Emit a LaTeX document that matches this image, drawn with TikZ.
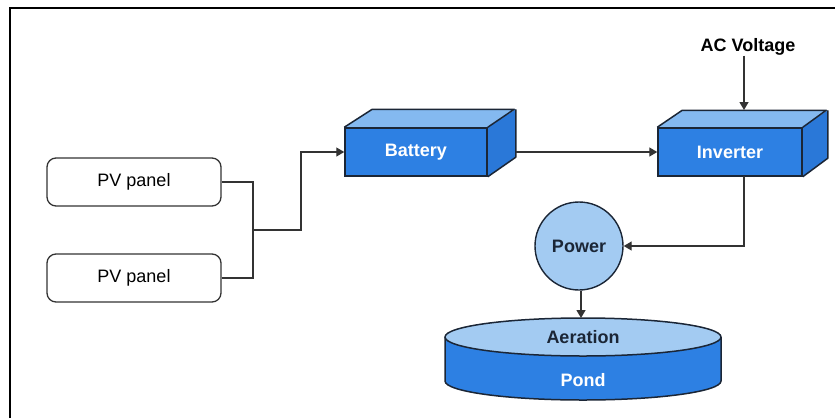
\documentclass[tikz,border=0pt]{standalone}
\usepackage{fontspec}
\setmainfont{Liberation Sans}
\usetikzlibrary{arrows.meta,calc}
\definecolor{frontblue}{HTML}{2D80E3}
\definecolor{topblue}{HTML}{84B9F0}
\definecolor{sideblue}{HTML}{2A78D8}
\definecolor{lightblue}{HTML}{A3CBF2}
\definecolor{edge}{HTML}{1B2636}
\definecolor{wire}{HTML}{333333}
\tikzset{
  txt/.style={font=\fontsize{18}{20}\selectfont},
  pvbox/.style={txt, draw=wire, line width=1.3pt, rounded corners=9pt, fill=white,
    minimum width=174pt, minimum height=48pt, inner sep=0pt},
  frontface/.style={txt, font=\fontsize{18}{20}\selectfont\bfseries, text=white,
    draw=edge, line width=1.5pt, fill=frontblue, minimum width=142pt, minimum height=48pt, inner sep=0pt},
  face/.style={draw=edge, line width=1.5pt, line join=round},
  arr/.style={draw=wire, line width=1.4pt, -{Triangle[length=8pt,width=9pt]}},
  wireline/.style={draw=wire, line width=1.4pt},
  dark/.style={txt, font=\fontsize{18}{20}\selectfont\bfseries, text=edge, inner sep=0pt},
  light/.style={txt, font=\fontsize{18}{20}\selectfont\bfseries, text=white, inner sep=0pt},
  powercircle/.style={dark, circle, draw=edge, line width=1.4pt, fill=lightblue, minimum size=88pt}
}
\begin{document}
\begin{tikzpicture}[x=1pt,y=-1pt]
\useasboundingbox (0,0) rectangle (835,418);
% frame
\draw[line width=2pt, black] (10,418) -- (10,8) -- (835,8);

% PV panels
\node[pvbox] (pv1) at (134,182) {PV panel};
\node[pvbox] (pv2) at (134,278) {PV panel};

% Battery cuboid
\node[frontface] (bat) at (416,152) {Battery};
\fill[topblue] (bat.north west) -- ++(28,-18) -- ++(142,0) -- (bat.north east) -- cycle;
\fill[sideblue] (bat.north east) -- ++(28,-18) -- ++(0,48) -- (bat.south east) -- cycle;
\draw[face] (bat.north west) -- ++(28,-18) -- ++(142,0) -- (bat.north east);
\draw[face] ($(bat.north east)+(28,-18)$) -- ++(0,48) -- (bat.south east);
\node[frontface] at (bat) {Battery};

% Inverter cuboid
\node[frontface, minimum width=144pt] (inv) at (730,152) {Inverter};
\fill[topblue] (inv.north west) -- ++(25,-17) -- ++(144,0) -- (inv.north east) -- cycle;
\fill[sideblue] (inv.north east) -- ++(25,-17) -- ++(0,48) -- (inv.south east) -- cycle;
\draw[face] (inv.north west) -- ++(25,-17) -- ++(144,0) -- (inv.north east);
\draw[face] ($(inv.north east)+(25,-17)$) -- ++(0,48) -- (inv.south east);
\node[frontface, minimum width=144pt] at (inv) {Inverter};

% AC voltage
\node[dark, text=black] (ac) at (748,47) {AC Voltage};
\coordinate (invtop) at (744,110);
\coordinate (invbot) at (744,176);

% Power
\node[powercircle] (pow) at (579,246) {Power};

% Pond cylinder
\coordinate (pondtop) at (581,318);
\fill[frontblue] (445,337) -- (445,381) arc[start angle=180, end angle=0, x radius=138, y radius=19] -- (721,337) -- cycle;
\draw[face] (445,337) -- (445,381) arc[start angle=180, end angle=0, x radius=138, y radius=19] -- (721,337);
\draw[face, fill=lightblue] (583,337) ellipse[x radius=138, y radius=19];
\node[dark] (aer) at (583,337) {Aeration};
\node[light] (pond) at (583,380) {Pond};

% connectors
\coordinate (j) at (253,230);
\coordinate (jb) at (301,230);
\coordinate (batR) at ($(bat.east)+(28,0)$);
\draw[wireline] (pv1.east) -| (j);
\draw[wireline] (pv2.east) -| (j);
\draw[arr] (j) -- (jb) |- (bat.west);
\draw[arr] (batR) -- (inv.west);
\draw[arr] (ac.south -| invtop) -- (invtop);
\draw[arr] (invbot) |- (pow.east);
\draw[arr] (pow.south -| pondtop) -- (pondtop);
\end{tikzpicture}
\end{document}
